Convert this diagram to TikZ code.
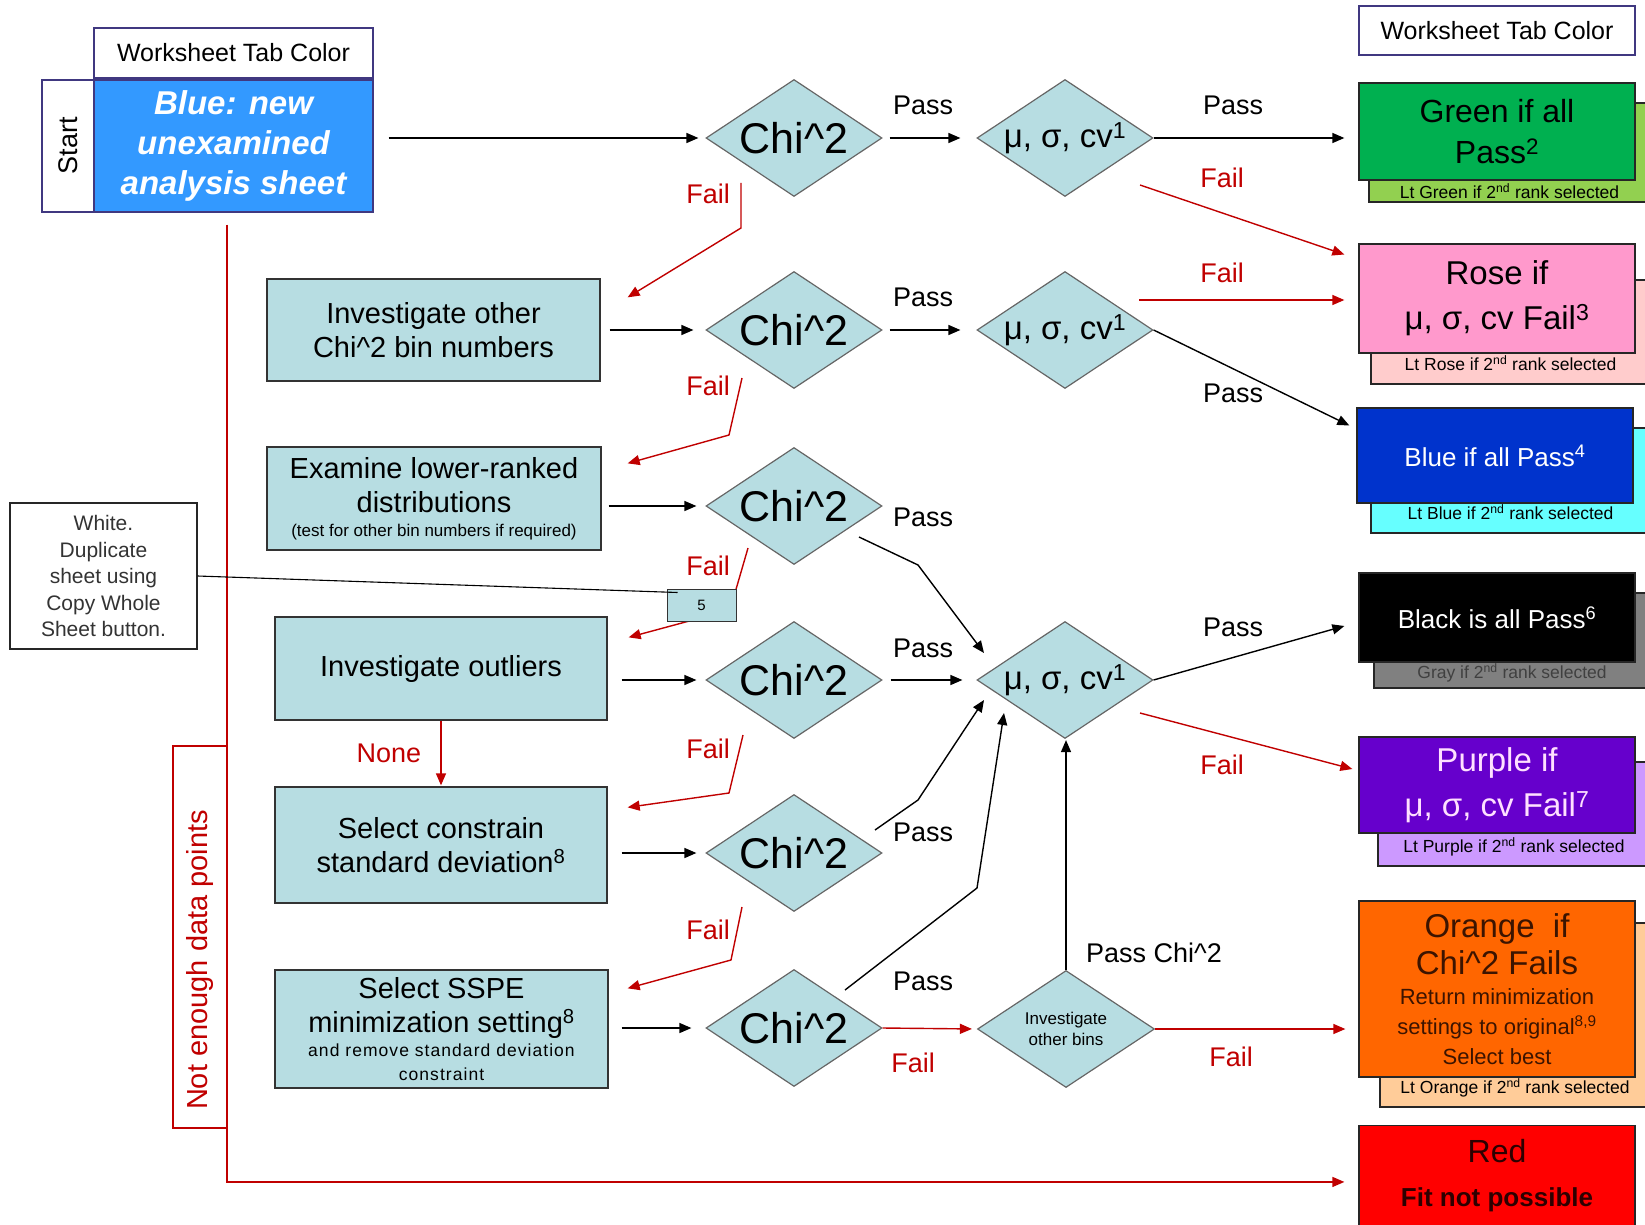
\documentclass[tikz,border=0pt]{standalone}
\usepackage{fontspec}
\setmainfont{Liberation Sans}
\usetikzlibrary{shapes.geometric}
\usetikzlibrary{arrows.meta}
\usepackage{xcolor}

\definecolor{procfill}{RGB}{183,221,226}
\definecolor{failred}{RGB}{192,0,0}
\definecolor{tabline}{RGB}{64,56,128}
\definecolor{sheetblue}{RGB}{51,153,255}
\definecolor{tabgreen}{RGB}{0,176,80}
\definecolor{tabltgreen}{RGB}{146,208,80}
\definecolor{tabrose}{RGB}{255,153,204}
\definecolor{tabltrose}{RGB}{255,204,204}
\definecolor{tabblue}{RGB}{0,51,204}
\definecolor{tabltblue}{RGB}{102,255,255}
\definecolor{tabgray}{RGB}{128,128,128}
\definecolor{tabpurple}{RGB}{102,0,204}
\definecolor{tabltpurple}{RGB}{204,153,255}
\definecolor{tabpink}{RGB}{255,224,255}
\definecolor{taborange}{RGB}{255,102,0}
\definecolor{tabltorange}{RGB}{255,204,153}
\definecolor{orangetext}{RGB}{60,20,0}
\definecolor{tabred}{RGB}{255,0,0}
\definecolor{redtext}{RGB}{45,0,0}

\newcommand{\setfs}[2]{\fontsize{#1}{#2}\selectfont}
\newcommand{\chisq}{Chi\textasciicircum2}
\newcommand{\musig}{μ, σ, cv}

\begin{document}
\begin{tikzpicture}[x=1pt, y=-1pt,
    every node/.style={inner sep=0pt},
    tabhead/.style={draw=tabline, line width=1.3pt, minimum height=50pt, font=\setfs{25}{30}},
    procbox/.style={draw=black!80, line width=1.3pt, fill=procfill, align=center, font=\setfs{29}{34}},
    decision/.style={diamond, draw=black!60, line width=1.2pt, fill=procfill, shape aspect=1.5, minimum width=176pt, minimum height=117pt},
    tabbox/.style={draw=black!85, line width=1.3pt, align=center, minimum width=276pt},
    lttext/.style={anchor=base, yshift=14pt, font=\setfs{17.5}{20}},
    lbl/.style={font=\setfs{27}{32}},
    faillbl/.style={lbl, text=failred},
    arr/.style={-{Triangle[length=12pt,width=10pt]}, line width=1.4pt},
    failarr/.style={arr, draw=failred},
  ]
  \useasboundingbox (0,0) rectangle (1645,1225);

  % start column
  \node[tabhead, minimum width=279pt] (tabhead) at (233.5,53) {Worksheet Tab Color};
  \node[draw=tabline, line width=1.3pt, rotate=90, minimum width=132pt, minimum height=52pt, font=\setfs{27}{32}] (start) at (68,146) {Start};
  \node[draw=tabline, line width=1.3pt, fill=sheetblue, text=white, align=center, minimum width=279pt, minimum height=132pt, font=\setfs{33}{40}\bfseries\itshape] (newsheet) at (233.5,146) {Blue: new\\unexamined\\analysis sheet};
  \node[draw=black!85, line width=1.2pt, align=center, text=black!80, minimum width=187pt, minimum height=146pt, font=\setfs{21}{26.5}] (whitenote) at (103.5,576) {White.\\Duplicate\\sheet using\\Copy Whole\\Sheet button.};
  \node[draw=failred, line width=1.3pt, rotate=90, text=failred, minimum width=382pt, minimum height=54pt, font=\setfs{29}{34}] (nodata) at (200,937) {Not enough data points\hspace*{46pt}};

  % process boxes
  \node[procbox, minimum width=333pt, minimum height=102pt] (otherbins) at (433.5,330) {Investigate other\\\chisq{} bin numbers};
  \node[procbox, minimum width=334pt, minimum height=103pt] (lowerrank) at (434,498.5) {Examine lower-ranked\\distributions\\[-10pt]{\setfs{17}{20}(test for other bin numbers if required)}};
  \node[procbox, minimum width=332pt, minimum height=103pt] (outliers) at (441,668.5) {Investigate outliers};
  \node[procbox, minimum width=332pt, minimum height=116pt] (constrain) at (441,845) {Select constrain\\standard deviation\textsuperscript{8}};
  \node[procbox, minimum width=333pt, minimum height=118pt] (sspe) at (441.5,1029) {Select SSPE\\minimization setting\textsuperscript{8}\\[-10pt]{\setfs{17.5}{20}\addfontfeature{LetterSpace=6}and remove standard deviation}\\[-10pt]{\setfs{17.5}{20}\addfontfeature{LetterSpace=6}constraint}};

  % decisions
  \node[decision, font=\setfs{43}{50}] (chi1) at (794,138) {\chisq};
  \node[decision, font=\setfs{43}{50}] (chi2) at (794,330) {\chisq};
  \node[decision, font=\setfs{43}{50}] (chi3) at (794,506) {\chisq};
  \node[decision, font=\setfs{43}{50}] (chi4) at (794,680) {\chisq};
  \node[decision, font=\setfs{43}{50}] (chi5) at (794,853) {\chisq};
  \node[decision, font=\setfs{43}{50}] (chi6) at (794,1028) {\chisq};
  \node[decision, font=\setfs{33}{40}] (mu1) at (1065,138) {\musig\textsuperscript{1}};
  \node[decision, font=\setfs{33}{40}] (mu2) at (1065,330) {\musig\textsuperscript{1}};
  \node[decision, font=\setfs{33}{40}] (mu3) at (1065,680) {\musig\textsuperscript{1}};
  \node[decision, minimum width=177pt, align=center, font=\setfs{17}{21}] (bins) at (1066,1029) {Investigate\\other bins};

  % worksheet tab colours
  \node[tabhead, minimum width=276pt, minimum height=49pt] (tabheadr) at (1497,30.5) {Worksheet Tab Color};
  \node[tabbox, fill=tabltgreen, minimum width=281pt, minimum height=99pt,
        label={[lttext, yshift=-10pt]south:Lt Green if 2\textsuperscript{nd} rank selected}] (ltgreen) at (1509.5,152.5) {};
  \node[tabbox, fill=tabgreen, minimum height=97pt, font=\setfs{32}{41}] (green) at (1497,131.5) {Green if all\\Pass\textsuperscript{2}};
  \node[tabbox, fill=tabltrose, minimum width=279pt, minimum height=104pt,
        label={[lttext]south:Lt Rose if 2\textsuperscript{nd} rank selected}] (ltrose) at (1510.5,332) {};
  \node[tabbox, fill=tabrose, minimum height=109pt, font=\setfs{33}{45}] (rose) at (1497,298.5) {Rose if\\\musig{} Fail\textsuperscript{3}};
  \node[tabbox, fill=tabltblue, minimum width=279pt, minimum height=105pt,
        label={[lttext]south:Lt Blue if 2\textsuperscript{nd} rank selected}] (ltblue) at (1510.5,480.5) {};
  \node[tabbox, fill=tabblue, text=white, minimum height=95pt, font=\setfs{26}{30}] (blue) at (1495,455.5) {Blue if all Pass\textsuperscript{4}};
  \node[tabbox, fill=tabgray, minimum height=95pt,
        label={[lttext, yshift=-4pt, text=black!75]south:Gray if 2\textsuperscript{nd} rank selected}] (gray) at (1512,640.5) {};
  \node[tabbox, fill=black, text=white, minimum height=89pt, font=\setfs{26}{30}] (black) at (1497,617.5) {Black is all Pass\textsuperscript{6}};
  \node[tabbox, fill=tabltpurple, minimum width=272pt, minimum height=104pt,
        label={[lttext]south:Lt Purple if 2\textsuperscript{nd} rank selected}] (ltpurple) at (1514,814) {};
  \node[tabbox, fill=tabpurple, text=tabpink, minimum height=96pt, font=\setfs{33}{45}] (purple) at (1497,785) {Purple if\\\musig{} Fail\textsuperscript{7}};
  \node[tabbox, fill=tabltorange, minimum width=270pt, minimum height=184pt,
        label={[lttext]south:Lt Orange if 2\textsuperscript{nd} rank selected}] (ltorange) at (1515,1015) {};
  \node[tabbox, fill=taborange, text=orangetext, minimum height=176pt, font=\setfs{33}{37}] (orange) at (1497,989) {Orange~ if\\\chisq{} Fails\\[-7pt]{\setfs{22}{30}Return minimization}\\[-7pt]{\setfs{22}{30}settings to original\textsuperscript{8,9}}\\[-7pt]{\setfs{22}{30}Select best}};
  \node[tabbox, fill=tabred, text=redtext, anchor=north, inner ysep=14pt, font=\setfs{32}{44}] (redbox) at (1497,1125) {Red\\{\bfseries\setfs{26}{44}Fit not possible}};

  % first row
  \draw[arr, shorten <=15pt, shorten >=7pt] (newsheet.east |- chi1.west) -- (chi1.west);
  \draw[arr, shorten <=7pt, shorten >=16pt] (chi1.east) -- (mu1.west);
  \draw[arr, shorten >=14pt] (mu1.east) -- (mu1.east -| green.west);
  \draw[failarr] ([shift={(75,47)}]mu1.center) -- ([shift={(-14,-44)}]rose.west);
  \draw[failarr] ([shift={(-53,45)}]chi1.center) -- ++(0,45) -- ([shift={(27,19)}]otherbins.north east);

  % second row
  \draw[arr, shorten <=9pt, shorten >=12pt] (otherbins.east) -- (chi2.west);
  \draw[arr, shorten <=7pt, shorten >=16pt] (chi2.east) -- (mu2.west);
  \draw[failarr, shorten >=14pt] ([shift={(74,-30)}]mu2.center) -- ([shift={(0,1.5)}]rose.west);
  \draw[arr] (mu2.east) -- ([shift={(-7,-30)}]blue.west);
  \draw[failarr] ([shift={(-52,48)}]chi2.center) -- ++(-13,57) -- ([shift={(26,17)}]lowerrank.north east);

  % third row
  \draw[arr, shorten <=7pt, shorten >=9pt] (lowerrank.east |- chi3.west) -- (chi3.west);
  \draw[arr] ([shift={(65,31)}]chi3.center) -- ([shift={(-147,-115)}]mu3.center) -- ([shift={(-81,-27)}]mu3.center);
  \draw[failarr] ([shift={(-46,42)}]chi3.center) -- ++(-18,62) -- ([shift={(21,21)}]outliers.north east);

  % fourth row
  \draw[arr, shorten <=14pt, shorten >=9pt] (outliers.east |- chi4.west) -- (chi4.west);
  \draw[arr, shorten <=8pt, shorten >=14pt] (chi4.east) -- (mu3.west);
  \draw[arr] (mu3.east) -- ([shift={(-14,8.5)}]black.west);
  \draw[failarr] ([shift={(75,33)}]mu3.center) -- ([shift={(-6,-16)}]purple.west);
  \draw[failarr, shorten >=1pt] (outliers.south) -- (constrain.north);
  \draw[failarr] ([shift={(-51,55)}]chi4.center) -- ++(-14,58) -- ([shift={(20,21)}]constrain.north east);

  % fifth row
  \draw[arr, shorten <=14pt, shorten >=9pt] (constrain.east |- chi5.west) -- (chi5.west);
  \draw[arr] ([shift={(81,-23)}]chi5.center) -- ([shift={(-147,120)}]mu3.center) -- ([shift={(-81,20)}]mu3.center);
  \draw[failarr] ([shift={(-52,54)}]chi5.center) -- ++(-11,53) -- ([shift={(19,19)}]sspe.north east);

  % sixth row
  \draw[arr, shorten <=13pt, shorten >=14pt] (sspe.east |- chi6.west) -- (chi6.west);
  \draw[arr] ([shift={(51,-38)}]chi6.center) -- ([shift={(-88,208)}]mu3.center) -- ([shift={(-61,33)}]mu3.center);
  \draw[failarr, shorten >=5pt] (chi6.east) -- (bins.west);
  \draw[failarr, shorten >=13pt] (bins.east) -- (bins.east -| orange.west);
  \draw[arr, shorten >=1pt] (bins.north) -- (bins.north |- mu3.south);

  % not enough data points
  \draw[failarr] ([shift={(-6.5,12)}]newsheet.south) |- ([shift={(-14,6)}]redbox.west);

  % footnote box
  \node[procbox, line width=1pt, minimum width=69pt, minimum height=32pt, font=\setfs{15}{18}] (fivebox) at (701.5,605) {5};
  \draw[line width=1.1pt] (whitenote.east) -- ([shift={(11,4)}]fivebox.north west);

  % labels
  \node[lbl] (pass1) at (923,105) {Pass};
  \node[lbl] (pass1r) at (1233,105) {Pass};
  \node[faillbl] (fail1r) at (1222,178) {Fail};
  \node[faillbl] (fail1) at (708,194) {Fail};
  \node[lbl] (pass2) at (923,297) {Pass};
  \node[faillbl] (fail2r) at (1222,273) {Fail};
  \node[lbl] (pass2r) at (1233,393) {Pass};
  \node[faillbl] (fail2) at (708,386) {Fail};
  \node[lbl] (pass3) at (923,517) {Pass};
  \node[faillbl] (fail3) at (708,566) {Fail};
  \node[lbl] (pass4) at (923,648) {Pass};
  \node[lbl] (pass4r) at (1233,627) {Pass};
  \node[faillbl] (fail4r) at (1222,765) {Fail};
  \node[faillbl] (fail4) at (708,749) {Fail};
  \node[faillbl] (none) at (389,753) {None};
  \node[lbl] (pass5) at (923,832) {Pass};
  \node[faillbl] (fail5) at (708,930) {Fail};
  \node[lbl] (pass6) at (923,981) {Pass};
  \node[faillbl] (fail6) at (913,1063) {Fail};
  \node[faillbl] (fail6r) at (1231,1057) {Fail};
  \node[lbl] (passchi) at (1154,953) {Pass \chisq};
\end{tikzpicture}
\end{document}
